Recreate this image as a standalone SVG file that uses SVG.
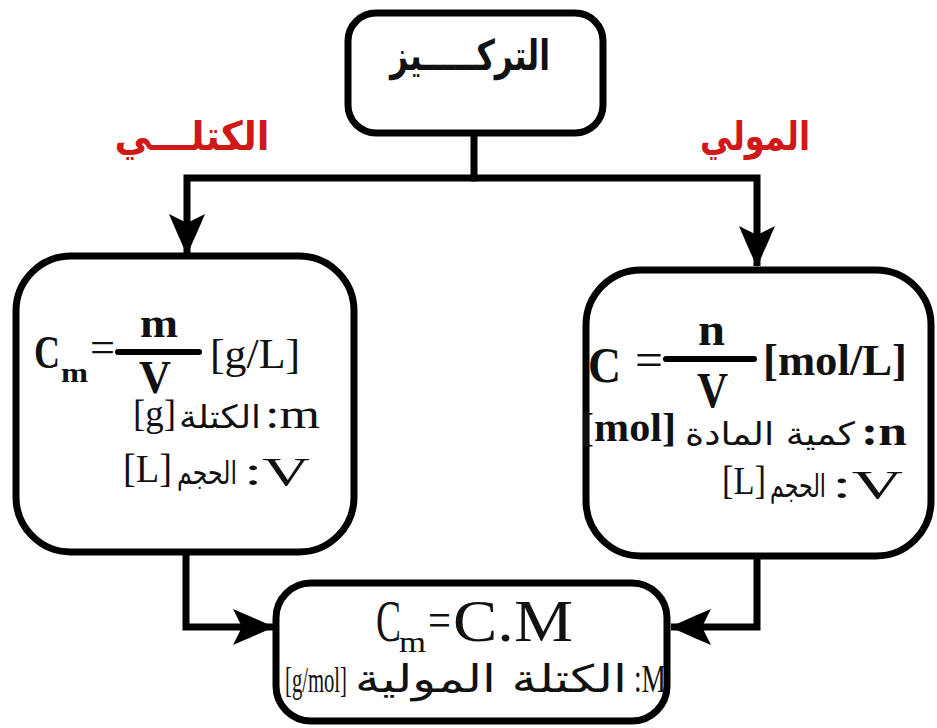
<svg xmlns="http://www.w3.org/2000/svg" width="937" height="728" viewBox="0 0 937 728">
<style>
.box{fill:#fff;stroke:#000;stroke-width:7}
.con{fill:none;stroke:#000;stroke-width:7}
.lat{font-family:"Liberation Serif","Times New Roman",serif;fill:#111}
.ar{font-family:"DejaVu Sans","Noto Sans",sans-serif;fill:#111;text-anchor:middle}
.red{fill:#d01818;font-weight:bold}
.b{font-weight:bold}
</style>
<defs>
<marker id="ah" markerUnits="userSpaceOnUse" viewBox="-42 -20 44 40" markerWidth="44" markerHeight="40" refX="0" refY="0" orient="auto">
<path d="M1,0 C-10,-5 -28,-13 -40,-18 L-31,0 L-40,18 C-28,13 -10,5 1,0 Z" fill="#000"/>
</marker>
</defs>
<rect width="937" height="728" fill="#fff"/>

<g id="connectors">
<path class="con" d="M474,133 V178"/>
<path class="con" d="M477,178 H187 V254" marker-end="url(#ah)"/>
<path class="con" d="M471,178 H757 V266" marker-end="url(#ah)"/>
<path class="con" d="M186,553 V627 H273" marker-end="url(#ah)"/>
<path class="con" d="M757,557 V627 H671" marker-end="url(#ah)"/>
</g>

<g id="label-mass">
<text class="ar red" x="192" y="150" font-size="40" textLength="155" lengthAdjust="spacingAndGlyphs">الكتلـــي</text>
</g>
<g id="label-molar">
<text class="ar red" x="755" y="150" font-size="40" textLength="110" lengthAdjust="spacingAndGlyphs">المولي</text>
</g>

<g id="node-top">
<rect class="box" x="348" y="13" width="255" height="120" rx="28"/>
<text class="ar b" x="470" y="70" font-size="42" textLength="160" lengthAdjust="spacingAndGlyphs">التركـــــيز</text>
</g>

<g id="node-left">
<rect class="box" x="16" y="256" width="338" height="296" rx="55"/>
<text class="lat b" x="34" y="368" font-size="46" textLength="26" lengthAdjust="spacingAndGlyphs">C</text>
<text class="lat b" x="61" y="382" font-size="28" textLength="27" lengthAdjust="spacingAndGlyphs">m</text>
<text class="lat" x="90" y="362" font-size="44" textLength="25" lengthAdjust="spacingAndGlyphs">=</text>
<rect x="115" y="349" width="87" height="6" rx="3" fill="#000"/>
<text class="lat b" x="140" y="337" font-size="42" textLength="38" lengthAdjust="spacingAndGlyphs">m</text>
<text class="lat b" x="139" y="393" font-size="46" textLength="32" lengthAdjust="spacingAndGlyphs">V</text>
<text class="lat" x="210" y="368" font-size="42" textLength="90" lengthAdjust="spacingAndGlyphs">[g/L]</text>
<text class="lat" x="133" y="426" font-size="38" textLength="43" lengthAdjust="spacingAndGlyphs">[g]</text>
<text class="ar" x="220" y="428" font-size="32" textLength="82" lengthAdjust="spacingAndGlyphs">الكتلة</text>
<text class="lat" x="265" y="428" font-size="42" textLength="55" lengthAdjust="spacingAndGlyphs">:m</text>
<text class="lat" x="123" y="482" font-size="40" textLength="49" lengthAdjust="spacingAndGlyphs">[L]</text>
<text class="ar" x="207" y="484" font-size="32" textLength="60" lengthAdjust="spacingAndGlyphs">الحجم</text>
<text class="lat" x="244" y="485" font-size="40" textLength="66" lengthAdjust="spacingAndGlyphs">:V</text>
</g>

<g id="node-right">
<rect class="box" x="586" y="270" width="345" height="286" rx="55"/>
<text class="lat b" x="588" y="382" font-size="50" textLength="33" lengthAdjust="spacingAndGlyphs">C</text>
<text class="lat" x="635" y="376" font-size="48" textLength="28" lengthAdjust="spacingAndGlyphs">=</text>
<rect x="663" y="356" width="94" height="6" rx="3" fill="#000"/>
<text class="lat b" x="698" y="345" font-size="46" textLength="27" lengthAdjust="spacingAndGlyphs">n</text>
<text class="lat b" x="697" y="407" font-size="50" textLength="31" lengthAdjust="spacingAndGlyphs">V</text>
<text class="lat b" x="763" y="375" font-size="44" textLength="144" lengthAdjust="spacingAndGlyphs">[mol/L]</text>
<text class="lat b" x="580" y="441" font-size="40" textLength="96" lengthAdjust="spacingAndGlyphs">[mol]</text>
<text class="ar" x="770" y="445" font-size="32" textLength="170" lengthAdjust="spacingAndGlyphs">كمية المادة</text>
<text class="lat b" x="861" y="445" font-size="42" textLength="46" lengthAdjust="spacingAndGlyphs">:n</text>
<text class="lat" x="722" y="494" font-size="40" textLength="44" lengthAdjust="spacingAndGlyphs">[L]</text>
<text class="ar" x="798" y="497" font-size="32" textLength="56" lengthAdjust="spacingAndGlyphs">الحجم</text>
<text class="lat" x="832" y="498" font-size="40" textLength="71" lengthAdjust="spacingAndGlyphs">:V</text>
</g>

<g id="node-bottom">
<rect class="box" x="276" y="583" width="391" height="138" rx="35"/>
<text class="lat" x="376" y="641" font-size="60" textLength="25" lengthAdjust="spacingAndGlyphs">C</text>
<text class="lat" x="399" y="652" font-size="30" textLength="27" lengthAdjust="spacingAndGlyphs">m</text>
<text class="lat" x="428" y="637" font-size="50" textLength="23" lengthAdjust="spacingAndGlyphs">=</text>
<text class="lat" x="453" y="641" font-size="60" textLength="120" lengthAdjust="spacingAndGlyphs">C.M</text>
<text class="lat" x="285" y="692" font-size="36" textLength="62" lengthAdjust="spacingAndGlyphs">[g/mol]</text>
<text class="ar" x="491" y="692" font-size="38" textLength="272" lengthAdjust="spacingAndGlyphs">الكتلة المولية</text>
<text class="lat" x="634" y="692" font-size="40" textLength="32" lengthAdjust="spacingAndGlyphs">:M</text>
</g>
</svg>
